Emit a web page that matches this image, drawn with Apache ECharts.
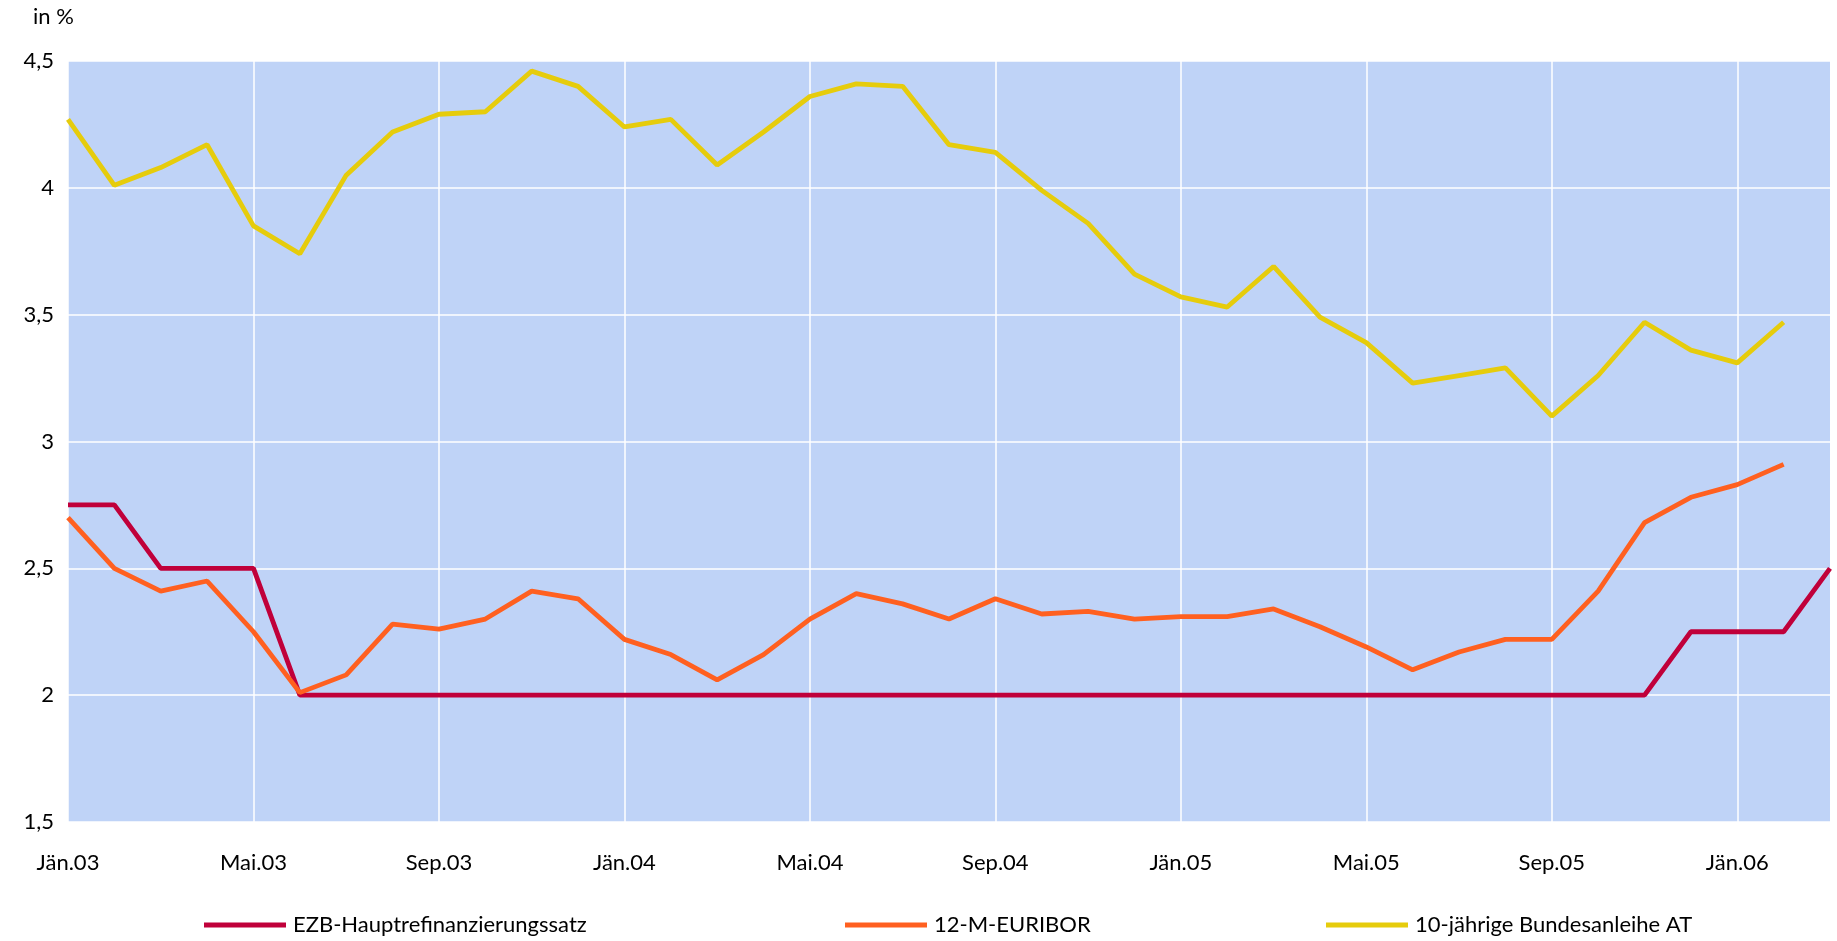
<!DOCTYPE html>
<html>
<head>
<meta charset="utf-8">
<script src="https://cdn.jsdelivr.net/npm/echarts@6/dist/echarts.min.js"></script>
<style>
  html, body { margin: 0; padding: 0; background: #fff; }
  #chart { width: 1837px; height: 941px; }
</style>
</head>
<body>
<div id="chart"></div>
<script>
// Monatswerte Jän.03 - Mär.06
const months = [
  'Jän.03','Feb.03','Mär.03','Apr.03','Mai.03','Jun.03','Jul.03','Aug.03','Sep.03','Okt.03','Nov.03','Dez.03',
  'Jän.04','Feb.04','Mär.04','Apr.04','Mai.04','Jun.04','Jul.04','Aug.04','Sep.04','Okt.04','Nov.04','Dez.04',
  'Jän.05','Feb.05','Mär.05','Apr.05','Mai.05','Jun.05','Jul.05','Aug.05','Sep.05','Okt.05','Nov.05','Dez.05',
  'Jän.06','Feb.06','Mär.06'
];
const ezb = [
  2.75, 2.75, 2.5, 2.5, 2.5, 2.0, 2.0, 2.0, 2.0, 2.0, 2.0, 2.0,
  2.0, 2.0, 2.0, 2.0, 2.0, 2.0, 2.0, 2.0, 2.0, 2.0, 2.0, 2.0,
  2.0, 2.0, 2.0, 2.0, 2.0, 2.0, 2.0, 2.0, 2.0, 2.0, 2.0, 2.25,
  2.25, 2.25, 2.5
];
const euribor = [
  2.70, 2.50, 2.41, 2.45, 2.25, 2.01, 2.08, 2.28, 2.26, 2.30, 2.41, 2.38,
  2.22, 2.16, 2.06, 2.16, 2.30, 2.40, 2.36, 2.30, 2.38, 2.32, 2.33, 2.30,
  2.31, 2.31, 2.34, 2.27, 2.19, 2.10, 2.17, 2.22, 2.22, 2.41, 2.68, 2.78,
  2.83, 2.91, null
];
const bund10 = [
  4.27, 4.01, 4.08, 4.17, 3.85, 3.74, 4.05, 4.22, 4.29, 4.30, 4.46, 4.40,
  4.24, 4.27, 4.09, 4.22, 4.36, 4.41, 4.40, 4.17, 4.14, 3.99, 3.86, 3.66,
  3.57, 3.53, 3.69, 3.49, 3.39, 3.23, 3.26, 3.29, 3.10, 3.26, 3.47, 3.36,
  3.31, 3.47, null
];
const names = ['EZB-Hauptrefinanzierungssatz', '12-M-EURIBOR', '10-jährige Bundesanleihe AT'];
const colors = ['#C0003A', '#FF6020', '#E6CC0C'];

const FONT = 'Lato, "Open Sans", sans-serif';
const chart = echarts.init(document.getElementById('chart'));

const legendAt = [199, 840, 1321];
chart.setOption({
  backgroundColor: '#ffffff',
  animation: false,
  textStyle: { fontFamily: FONT },
  grid: { left: 68, right: 7, top: 61, bottom: 119, show: true, backgroundColor: '#BFD3F7', borderWidth: 0 },
  graphic: [{ type: 'text', left: 33, top: 6, style: { text: 'in %', fontSize: 22, fontFamily: FONT, fill: '#000' } }],
  legend: names.map((n, i) => ({
    data: [n], left: legendAt[i], top: 909, itemWidth: 82, itemHeight: 5, icon: 'rect', itemGap: 0,
    textStyle: { fontSize: 22, color: '#000', fontFamily: FONT, padding: [0, 0, 0, 2] }
  })),
  xAxis: {
    type: 'category', data: months, boundaryGap: false,
    axisLine: { show: false }, axisTick: { show: false },
    axisLabel: { interval: 3, color: '#000', fontSize: 22, margin: 30, fontFamily: FONT },
    splitLine: { show: true, interval: 3, lineStyle: { color: '#ffffff', width: 1.5 } }
  },
  yAxis: {
    type: 'value', min: 1.5, max: 4.5, interval: 0.5,
    axisLine: { show: false }, axisTick: { show: false },
    axisLabel: { color: '#000', fontSize: 22, margin: 14, fontFamily: FONT,
      formatter: v => String(v).replace('.', ',') },
    splitLine: { lineStyle: { color: '#ffffff', width: 1.5 } }
  },
  series: [ezb, euribor, bund10].map((d, i) => ({
    name: names[i], type: 'line', data: d, symbol: 'none',
    lineStyle: { color: colors[i], width: 4.8 }, itemStyle: { color: colors[i] }
  }))
});
</script>
</body>
</html>
